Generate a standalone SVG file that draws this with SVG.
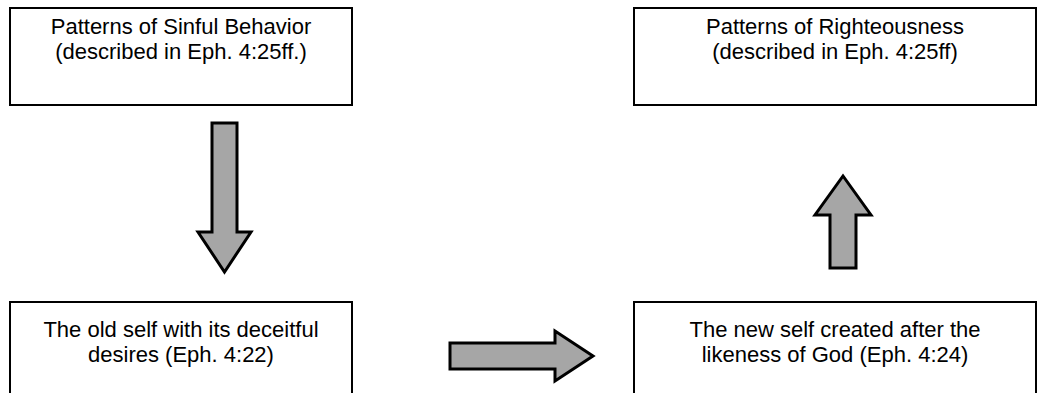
<svg xmlns="http://www.w3.org/2000/svg" width="1052" height="393" viewBox="0 0 1052 393">
  <style>
    .box { fill: #ffffff; stroke: #000000; stroke-width: 2; }
    .label { font-family: "Liberation Sans", Arial, sans-serif; font-size: 22px; fill: #000000; text-anchor: middle; }
    .arrow { fill: #a6a6a6; stroke: #000000; stroke-width: 3; stroke-linejoin: miter; }
  </style>
  <rect width="1052" height="393" fill="#ffffff"/>

  <g id="sinful-patterns">
    <rect class="box" x="10" y="8" width="342" height="97"/>
    <text class="label" x="181" y="34">Patterns of Sinful Behavior</text>
    <text class="label" x="181" y="59">(described in Eph. 4:25ff.)</text>
  </g>

  <g id="righteous-patterns">
    <rect class="box" x="634" y="8" width="402" height="97"/>
    <text class="label" x="835" y="34">Patterns of Righteousness</text>
    <text class="label" x="835" y="59">(described in Eph. 4:25ff)</text>
  </g>

  <g id="old-self">
    <rect class="box" x="10" y="302" width="342" height="100"/>
    <text class="label" x="181" y="337">The old self with its deceitful</text>
    <text class="label" x="181" y="362">desires (Eph. 4:22)</text>
  </g>

  <g id="new-self">
    <rect class="box" x="634" y="302" width="402" height="100"/>
    <text class="label" x="835" y="337">The new self created after the</text>
    <text class="label" x="835" y="362">likeness of God (Eph. 4:24)</text>
  </g>

  <g id="connectors">
    <!-- down: sinful patterns to old self -->
    <polygon class="arrow" points="212,123 237,123 237,232 251,232 224.5,272 198,232 212,232"/>
    <!-- right: old self to new self -->
    <polygon class="arrow" points="450,343 555,343 555,331 593,356 555,381 555,369 450,369"/>
    <!-- up: new self to righteous patterns -->
    <polygon class="arrow" points="830,268 856,268 856,215 871,215 843,176 815,215 830,215"/>
  </g>
</svg>
